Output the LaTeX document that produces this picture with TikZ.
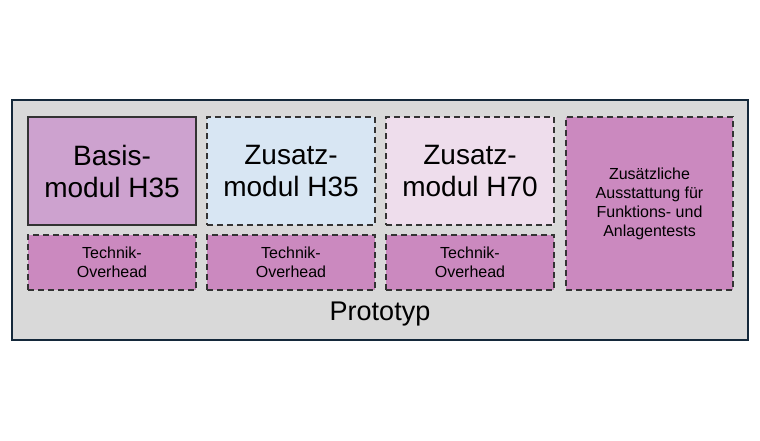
\documentclass[tikz,border=0pt]{standalone}
\usepackage{fontspec}
\setmainfont{Liberation Sans}
\begin{document}
\begin{tikzpicture}[x=1pt,y=-1pt,
  box/.style={draw=black!80, line width=1.6pt, dash pattern=on 6pt off 4pt, align=center, inner sep=0pt},
  big/.style={font=\fontsize{28}{32}\selectfont},
  small/.style={font=\fontsize{16}{19}\selectfont},
]
\definecolor{navy}{HTML}{14283A}
\definecolor{grayfill}{HTML}{D9D9D9}
\definecolor{basis}{HTML}{CDA2CF}
\definecolor{blue1}{HTML}{D8E6F3}
\definecolor{pink1}{HTML}{EEDDEC}
\definecolor{tech}{HTML}{CB89BF}
\useasboundingbox (0,0) rectangle (760,440);
\node[draw=navy, line width=2.5pt, fill=grayfill, minimum width=736pt, minimum height=240pt, inner sep=0pt] (outer) at (380,220) {};
\node[box, solid, fill=basis, minimum width=168pt, minimum height=108pt, big] (b) at (112,171) {Basis-\\modul H35};
\node[box, fill=blue1, minimum width=168pt, minimum height=108pt, big] (z1) at (291,171) {Zusatz-\\modul H35};
\node[box, fill=pink1, minimum width=168pt, minimum height=108pt, big] (z2) at (470,171) {Zusatz-\\modul H70};
\node[box, fill=tech, minimum width=167pt, minimum height=173pt, small] (za) at (649.5,203.5) {Zusätzliche\\Ausstattung für\\Funktions- und\\Anlagentests};
\node[box, fill=tech, minimum width=168pt, minimum height=55pt, small] (t1) at (112,262.5) {Technik-\\Overhead};
\node[box, fill=tech, minimum width=168pt, minimum height=55pt, small] (t2) at (291,262.5) {Technik-\\Overhead};
\node[box, fill=tech, minimum width=168pt, minimum height=55pt, small] (t3) at (470,262.5) {Technik-\\Overhead};
\node[font=\fontsize{27}{30}\selectfont] (p) at (380,314) {Prototyp};
\end{tikzpicture}
\end{document}
